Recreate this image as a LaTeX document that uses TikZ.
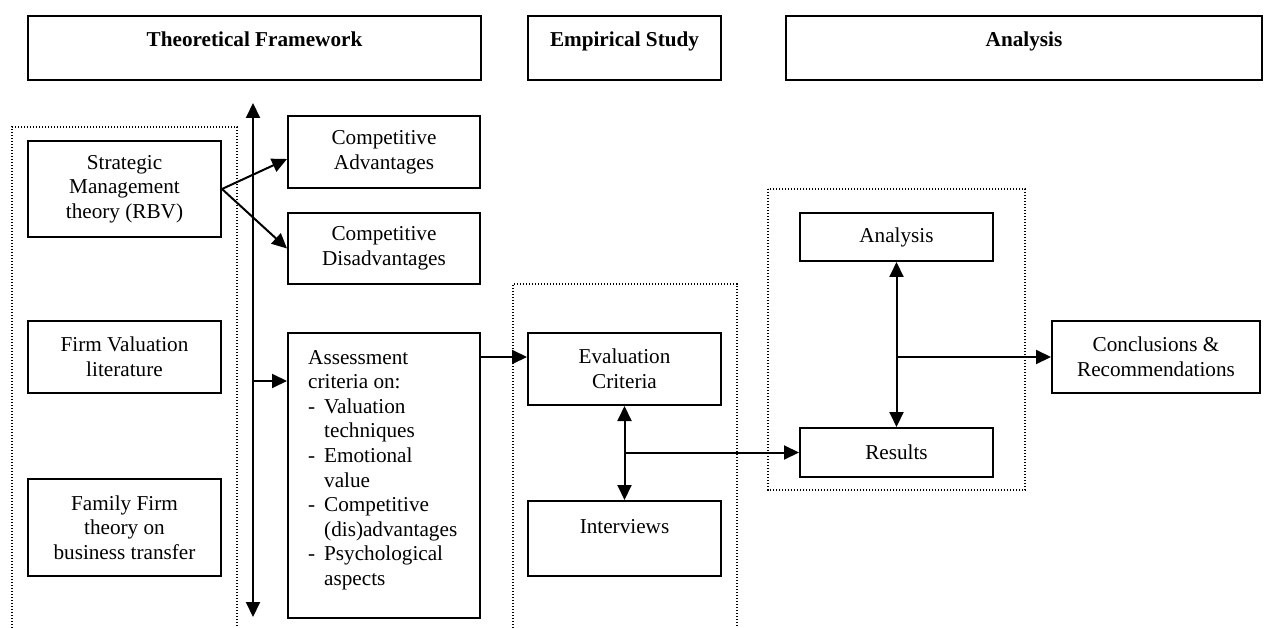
\documentclass[tikz,border=0pt]{standalone}
\usepackage{fontspec}
\setmainfont{Liberation Serif}
\usetikzlibrary{arrows.meta}
\begin{document}
\begin{tikzpicture}[x=1pt,y=-1pt,
  font=\fontsize{21.2}{24.6}\selectfont,
  box/.style={draw, line width=2pt, inner sep=0pt, align=center},
  hdr/.style={box, font=\fontsize{21.2}{24.6}\selectfont\bfseries,
    minimum height=64pt, text height=15pt, text depth=17pt},
  group/.style={line width=1.2pt, dash pattern=on 1.2pt off 1.8pt},
  tip/.tip={Triangle[length=15pt,width=14pt]},
  conn/.style={line width=2pt, -tip},
  biconn/.style={line width=2pt, tip-tip}]

\useasboundingbox (0,0) rectangle (1266,628);

% column headers
\node[hdr, minimum width=453pt] (tf) at (254.5,48) {Theoretical Framework};
\node[hdr, minimum width=193pt] (es) at (624.5,48) {Empirical Study};
\node[hdr, minimum width=476pt] (ah) at (1024,48) {Analysis};

% dotted groupings
\draw[group] (12,628) -- (12,127) -- (237,127) -- (237,628);
\draw[group] (513,628) -- (513,284) -- (737,284) -- (737,628);
\draw[group] (768,189) rectangle (1025,490);

% theoretical framework
\node[box, minimum width=193pt, minimum height=96pt] (sm) at (124.5,189) {Strategic\\Management\\theory (RBV)};
\node[box, minimum width=193pt, minimum height=72pt] (fv) at (124.5,357) {Firm Valuation\\literature};
\node[box, minimum width=193pt, minimum height=97pt] (ff) at (124.5,527.5) {Family Firm\\theory on\\business transfer};

\node[box, minimum width=192pt, minimum height=72pt] (ca) at (384,152) {Competitive\\Advantages};
\node[box, minimum width=192pt, minimum height=71pt] (cd) at (384,248.5) {Competitive\\Disadvantages};
\node[box, minimum width=192pt, minimum height=285pt] (ac) at (384,475.5) {};
\node[anchor=north west, inner sep=0pt, align=left] (actext) at (308,350)
  {Assessment\\criteria on:\\
   \makebox[16pt][l]{-}Valuation\\\hspace*{16pt}techniques\\
   \makebox[16pt][l]{-}Emotional\\\hspace*{16pt}value\\
   \makebox[16pt][l]{-}Competitive\\\hspace*{16pt}(dis)advantages\\
   \makebox[16pt][l]{-}Psychological\\\hspace*{16pt}aspects};

% empirical study
\node[box, minimum width=193pt, minimum height=72pt] (ev) at (624.5,369) {Evaluation\\Criteria};
\node[box, minimum width=193pt, minimum height=75pt, text height=15pt, text depth=26pt] (iv) at (624.5,538.5) {Interviews};

% analysis
\node[box, minimum width=193pt, minimum height=48pt] (an) at (896.5,237) {Analysis};
\node[box, minimum width=193pt, minimum height=49pt] (rs) at (896.5,452.5) {Results};
\node[box, minimum width=208pt, minimum height=72pt] (cc) at (1156,357) {Conclusions \&\\Recommendations};

% connectors
\coordinate (vt) at (253,103);
\coordinate (vb) at (253,617);
\coordinate (vj) at (253,381);
\coordinate (aj) at (480,357);
\draw[biconn] (vt) -- (vb);
\draw[conn] (vj) -- (vj -| ac.west);
\draw[conn] (sm.east) -- ([yshift=-7pt]ca.west);
\draw[conn] (sm.east) -- (cd.west);
\draw[conn] (aj) -- (aj -| ev.west);
\draw[biconn] (ev.south) -- (iv.north);
\draw[conn] (ev.south |- rs.west) -- (rs.west);
\draw[biconn] (an.south) -- (rs.north);
\draw[conn] (an.south |- cc.west) -- (cc.west);
\end{tikzpicture}
\end{document}
